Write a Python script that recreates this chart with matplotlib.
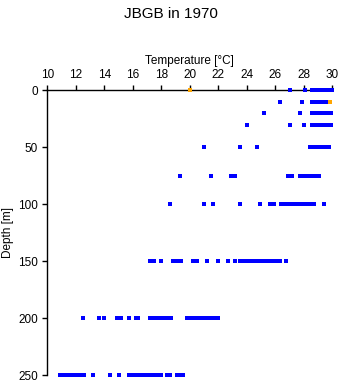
import matplotlib
matplotlib.use('Agg')
import matplotlib.pyplot as plt

plt.rcParams['font.family'] = ['Liberation Sans', 'DejaVu Sans']

# temperatures read per depth level (blue series)
t0 = [27.0, 28.1, 28.6, 28.7, 28.8, 28.9, 29.0, 29.1, 29.2, 29.25, 29.4, 29.55, 29.6, 29.7, 29.8, 29.9, 30.0]
t10 = [26.3, 27.9, 28.6, 28.7, 28.8, 28.9, 29.05, 29.3, 29.4, 29.5, 29.6, 29.7]
t20 = [25.2, 27.7, 28.6, 28.7, 28.8, 28.9, 29.0, 29.1, 29.2, 29.3, 29.4, 29.5, 29.6, 29.7, 29.8, 29.9]
t30 = [24.0, 27.0, 28.0, 28.6, 28.7, 28.8, 28.9, 29.0, 29.1, 29.2, 29.3, 29.4, 29.5, 29.6, 29.7, 29.8, 29.9]
t50 = [21.0, 23.5, 24.75, 28.4, 28.5, 28.6, 28.7, 28.8, 28.9, 29.0, 29.1, 29.3, 29.4, 29.5, 29.6, 29.75]
t75 = [19.3, 21.5, 22.9, 23.2, 26.9, 27.2, 27.7, 27.8, 27.9, 28.0, 28.1, 28.2, 28.3, 28.4, 28.5,
       28.6, 28.7, 28.8, 28.9, 29.05]
t100 = [18.6, 21.0, 21.6, 23.5, 24.9, 25.6, 25.9, 26.4, 26.5, 26.6, 26.7, 26.8, 26.9, 27.0, 27.1,
        27.3, 27.45, 27.55, 27.7, 27.95, 28.05, 28.15, 28.3, 28.45, 28.55, 28.7, 29.4]
t150 = [17.2, 17.5, 18.0, 18.8, 18.95, 19.1, 19.25, 19.4, 20.2, 20.5, 21.2, 22.0, 22.7, 23.2, 23.5,
        23.75, 23.9, 24.05, 24.2, 24.5, 24.6, 24.7, 24.8, 24.9, 25.05, 25.3, 25.5, 25.65, 25.8,
        25.95, 26.1, 26.3, 26.75]
t200 = [12.5, 13.6, 14.0, 14.9, 15.2, 15.7, 16.2, 16.4, 17.2, 17.4, 17.6, 17.9, 18.1, 18.3, 18.5,
        18.7, 19.8, 20.0, 20.2, 20.4, 20.6, 20.8, 21.0, 21.2, 21.4, 21.6, 21.8, 22.0]
t250 = [10.9, 11.1, 11.3, 11.5, 11.7, 11.9, 12.1, 12.3, 12.6, 13.2, 14.4, 15.0, 15.7, 15.9, 16.1,
        16.3, 16.5, 16.7, 16.9, 17.1, 17.3, 17.5, 17.7, 18.0, 18.4, 18.6, 19.1, 19.3, 19.5]

depths = [0, 10, 20, 30, 50, 75, 100, 150, 200, 250]
temps = [t0, t10, t20, t30, t50, t75, t100, t150, t200, t250]

# orange points
orange_t = [20.0, 29.85]
orange_d = [0, 10]

xticks = [10, 12, 14, 16, 18, 20, 22, 24, 26, 28, 30]
yticks = [0, 50, 100, 150, 200, 250]

fig = plt.figure(figsize=(3.41, 3.84), dpi=100)
ax = fig.add_axes([0.1387, 0.0227, 0.8358, 0.7421])

for d, tl in zip(depths, temps):
	ax.plot(tl, [d]*len(tl), ls='none', marker='s', ms=2.6, mew=0, color='#0000FF', clip_on=False, zorder=3)
ax.plot(orange_t, orange_d, ls='none', marker='s', ms=2.6, mew=0, color='#FFA500', clip_on=False, zorder=4)

ax.set_xlim(10, 30)
ax.set_ylim(250, 0)
ax.spines['right'].set_visible(False)
ax.spines['bottom'].set_visible(False)
ax.spines['top'].set_linewidth(1)
ax.spines['left'].set_linewidth(1)
ax.xaxis.set_ticks_position('top')
ax.xaxis.set_label_position('top')
ax.set_xticks(xticks)
ax.set_yticks(yticks)
ax.tick_params(axis='both', length=3.6, width=1, labelsize=8.5, pad=3)
ax.set_xlabel('Temperature [\u00b0C]', fontsize=8.5, labelpad=4)
ax.set_ylabel('Depth [m]', fontsize=8.5)
ax.yaxis.set_label_coords(-0.118, 0.5)

fig.text(0.5, 0.963, 'JBGB in 1970', ha='center', va='center', fontsize=11)

fig.savefig('out.png', dpi=100)
